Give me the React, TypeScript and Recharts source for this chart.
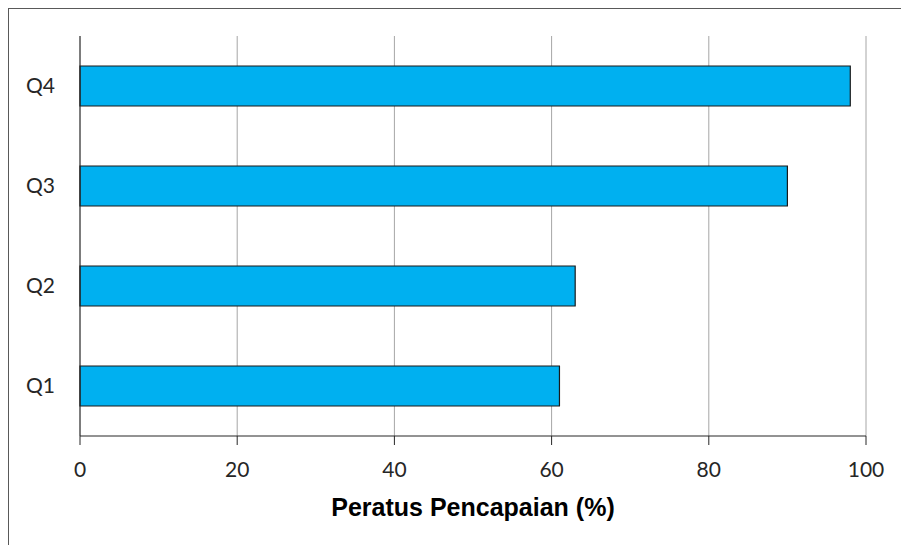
import { BarChart, Bar, XAxis, YAxis, CartesianGrid } from "recharts";

const quarters = ["Q1", "Q2", "Q3", "Q4"];
const achievement = [61, 63, 90, 98];
const xTicks = [0, 20, 40, 60, 80, 100];

const data = quarters.map((q, i) => ({ quarter: q, value: achievement[i] }));

const font = "Lato, 'Open Sans', sans-serif";

export default function App() {
  return (
    <div style={{ position: "absolute", left: 0, top: 0, width: 901, height: 545, background: "#fff" }}>
      <div
        style={{
          position: "absolute",
          left: 8,
          top: 8,
          right: -10,
          bottom: -10,
          borderLeft: "1.5px solid #595959",
          borderTop: "1.5px solid #595959",
        }}
      />
      <BarChart
        width={901}
        height={545}
        data={data}
        layout="vertical"
        margin={{ top: 36, right: 35, bottom: 69, left: 0 }}
        style={{ position: "absolute", left: 0, top: 0 }}
      >
        <CartesianGrid horizontal={false} stroke="#a6a6a6" strokeWidth={1} />
        <XAxis
          type="number"
          domain={[0, 100]}
          ticks={xTicks}
          height={40}
          stroke="#262626"
          tickSize={9}
          tickMargin={17}
          tick={{ fill: "#262626", fontSize: 21, fontFamily: font }}
          label={{
            value: "Peratus Pencapaian (%)",
            position: "bottom",
            offset: 22,
            style: { fill: "#000", fontSize: 25, fontWeight: "bold", fontFamily: "'Liberation Sans', Arial, sans-serif" },
          }}
        />
        <YAxis
          type="category"
          dataKey="quarter"
          reversed
          width={80}
          stroke="#262626"
          tickLine={false}
          tickSize={0}
          tickMargin={25}
          tick={{ fill: "#262626", fontSize: 21, fontFamily: font }}
        />
        <Bar dataKey="value" fill="#00B0F0" stroke="#1a1a1a" strokeWidth={1.2} barSize={40} isAnimationActive={false} />
      </BarChart>
    </div>
  );
}
